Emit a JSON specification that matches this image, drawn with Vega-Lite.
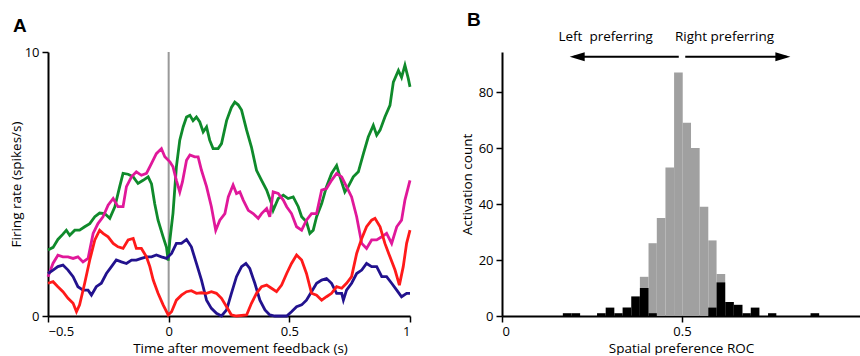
{
  "$schema": "https://vega.github.io/schema/vega-lite/v6.json",
  "padding": {"left": 9, "top": 11, "right": 0, "bottom": 0},
  "bounds": "flush",
  "spacing": 92,
  "config": {
    "view": {"stroke": null},
    "font": "Open Sans",
    "axis": {"grid": false, "domainColor": "black", "domainWidth": 2, "tickColor": "black", "tickWidth": 1.5, "tickSize": 6, "labelFontSize": 13, "titleFontSize": 13.5, "titleFontWeight": "normal", "labelColor": "black", "titleColor": "black", "labelPadding": 3}
  },
  "datasets": {
    "lines": [
      {"s":"green","t":-0.5,"v":2.5},{"s":"green","t":-0.479,"v":2.6},{"s":"green","t":-0.459,"v":2.9},{"s":"green","t":-0.438,"v":3.1},{"s":"green","t":-0.424,"v":3.25},{"s":"green","t":-0.41,"v":3.06},{"s":"green","t":-0.389,"v":3.25},{"s":"green","t":-0.369,"v":3.25},{"s":"green","t":-0.348,"v":3.38},{"s":"green","t":-0.327,"v":3.5},{"s":"green","t":-0.306,"v":3.76},{"s":"green","t":-0.286,"v":3.9},{"s":"green","t":-0.265,"v":3.88},{"s":"green","t":-0.244,"v":3.7},{"s":"green","t":-0.223,"v":4.14},{"s":"green","t":-0.203,"v":4.9},{"s":"green","t":-0.189,"v":5.4},{"s":"green","t":-0.168,"v":5.37},{"s":"green","t":-0.147,"v":5.27},{"s":"green","t":-0.127,"v":5.02},{"s":"green","t":-0.106,"v":5.14},{"s":"green","t":-0.085,"v":5.27},{"s":"green","t":-0.071,"v":5.0},{"s":"green","t":-0.058,"v":4.26},{"s":"green","t":-0.044,"v":3.63},{"s":"green","t":-0.023,"v":3.0},{"s":"green","t":-0.009,"v":2.6},{"s":"green","t":-0.002,"v":2.1},{"s":"green","t":0.005,"v":2.88},{"s":"green","t":0.018,"v":3.9},{"s":"green","t":0.032,"v":5.65},{"s":"green","t":0.046,"v":6.66},{"s":"green","t":0.06,"v":7.16},{"s":"green","t":0.074,"v":7.54},{"s":"green","t":0.088,"v":7.6},{"s":"green","t":0.101,"v":7.4},{"s":"green","t":0.115,"v":7.54},{"s":"green","t":0.129,"v":7.35},{"s":"green","t":0.143,"v":6.97},{"s":"green","t":0.157,"v":7.16},{"s":"green","t":0.17,"v":6.66},{"s":"green","t":0.184,"v":6.34},{"s":"green","t":0.205,"v":6.34},{"s":"green","t":0.219,"v":6.53},{"s":"green","t":0.24,"v":7.4},{"s":"green","t":0.26,"v":7.9},{"s":"green","t":0.274,"v":8.1},{"s":"green","t":0.288,"v":8.0},{"s":"green","t":0.302,"v":7.8},{"s":"green","t":0.323,"v":7.04},{"s":"green","t":0.343,"v":6.4},{"s":"green","t":0.364,"v":5.52},{"s":"green","t":0.385,"v":5.14},{"s":"green","t":0.406,"v":4.77},{"s":"green","t":0.426,"v":4.26},{"s":"green","t":0.433,"v":4.0},{"s":"green","t":0.454,"v":4.45},{"s":"green","t":0.475,"v":4.58},{"s":"green","t":0.495,"v":4.45},{"s":"green","t":0.516,"v":4.51},{"s":"green","t":0.537,"v":4.14},{"s":"green","t":0.551,"v":3.76},{"s":"green","t":0.571,"v":3.57},{"s":"green","t":0.585,"v":3.13},{"s":"green","t":0.599,"v":3.25},{"s":"green","t":0.613,"v":3.76},{"s":"green","t":0.634,"v":4.26},{"s":"green","t":0.654,"v":4.9},{"s":"green","t":0.675,"v":5.4},{"s":"green","t":0.696,"v":5.7},{"s":"green","t":0.71,"v":5.27},{"s":"green","t":0.73,"v":4.7},{"s":"green","t":0.744,"v":4.9},{"s":"green","t":0.765,"v":5.27},{"s":"green","t":0.786,"v":5.46},{"s":"green","t":0.807,"v":6.15},{"s":"green","t":0.827,"v":6.78},{"s":"green","t":0.848,"v":7.22},{"s":"green","t":0.862,"v":6.85},{"s":"green","t":0.876,"v":7.04},{"s":"green","t":0.896,"v":7.54},{"s":"green","t":0.917,"v":7.98},{"s":"green","t":0.931,"v":8.86},{"s":"green","t":0.952,"v":9.3},{"s":"green","t":0.965,"v":9.04},{"s":"green","t":0.979,"v":9.5},{"s":"green","t":0.993,"v":8.99},{"s":"green","t":1.0,"v":8.68},

      {"s":"magenta","t":-0.5,"v":1.49},{"s":"magenta","t":-0.479,"v":2.0},{"s":"magenta","t":-0.459,"v":2.3},{"s":"magenta","t":-0.438,"v":2.24},{"s":"magenta","t":-0.417,"v":2.24},{"s":"magenta","t":-0.396,"v":2.18},{"s":"magenta","t":-0.376,"v":2.24},{"s":"magenta","t":-0.355,"v":2.05},{"s":"magenta","t":-0.334,"v":2.18},{"s":"magenta","t":-0.313,"v":3.13},{"s":"magenta","t":-0.293,"v":3.5},{"s":"magenta","t":-0.272,"v":3.76},{"s":"magenta","t":-0.251,"v":4.2},{"s":"magenta","t":-0.23,"v":4.45},{"s":"magenta","t":-0.21,"v":4.14},{"s":"magenta","t":-0.189,"v":4.14},{"s":"magenta","t":-0.175,"v":4.9},{"s":"magenta","t":-0.154,"v":5.27},{"s":"magenta","t":-0.134,"v":5.46},{"s":"magenta","t":-0.113,"v":5.33},{"s":"magenta","t":-0.092,"v":5.4},{"s":"magenta","t":-0.071,"v":5.78},{"s":"magenta","t":-0.051,"v":6.15},{"s":"magenta","t":-0.03,"v":6.34},{"s":"magenta","t":-0.016,"v":6.03},{"s":"magenta","t":0.005,"v":5.84},{"s":"magenta","t":0.018,"v":5.65},{"s":"magenta","t":0.032,"v":5.14},{"s":"magenta","t":0.046,"v":4.7},{"s":"magenta","t":0.057,"v":5.08},{"s":"magenta","t":0.074,"v":5.9},{"s":"magenta","t":0.088,"v":6.1},{"s":"magenta","t":0.108,"v":6.03},{"s":"magenta","t":0.122,"v":6.03},{"s":"magenta","t":0.136,"v":5.52},{"s":"magenta","t":0.157,"v":4.9},{"s":"magenta","t":0.177,"v":4.14},{"s":"magenta","t":0.195,"v":3.25},{"s":"magenta","t":0.212,"v":3.63},{"s":"magenta","t":0.233,"v":3.88},{"s":"magenta","t":0.247,"v":4.51},{"s":"magenta","t":0.267,"v":4.96},{"s":"magenta","t":0.281,"v":4.64},{"s":"magenta","t":0.295,"v":4.7},{"s":"magenta","t":0.309,"v":4.39},{"s":"magenta","t":0.33,"v":4.0},{"s":"magenta","t":0.35,"v":3.88},{"s":"magenta","t":0.371,"v":3.7},{"s":"magenta","t":0.385,"v":3.88},{"s":"magenta","t":0.406,"v":4.07},{"s":"magenta","t":0.419,"v":3.76},{"s":"magenta","t":0.433,"v":4.7},{"s":"magenta","t":0.454,"v":4.64},{"s":"magenta","t":0.475,"v":4.39},{"s":"magenta","t":0.489,"v":4.14},{"s":"magenta","t":0.509,"v":3.88},{"s":"magenta","t":0.53,"v":3.38},{"s":"magenta","t":0.551,"v":3.25},{"s":"magenta","t":0.571,"v":3.63},{"s":"magenta","t":0.592,"v":3.88},{"s":"magenta","t":0.613,"v":3.88},{"s":"magenta","t":0.634,"v":4.77},{"s":"magenta","t":0.654,"v":4.83},{"s":"magenta","t":0.675,"v":5.14},{"s":"magenta","t":0.696,"v":5.4},{"s":"magenta","t":0.717,"v":5.27},{"s":"magenta","t":0.737,"v":4.9},{"s":"magenta","t":0.758,"v":4.51},{"s":"magenta","t":0.779,"v":3.76},{"s":"magenta","t":0.8,"v":2.75},{"s":"magenta","t":0.82,"v":2.56},{"s":"magenta","t":0.841,"v":2.88},{"s":"magenta","t":0.862,"v":2.88},{"s":"magenta","t":0.883,"v":3.0},{"s":"magenta","t":0.903,"v":3.13},{"s":"magenta","t":0.924,"v":2.75},{"s":"magenta","t":0.945,"v":3.38},{"s":"magenta","t":0.965,"v":3.63},{"s":"magenta","t":0.979,"v":4.39},{"s":"magenta","t":1.0,"v":5.14},

      {"s":"navy","t":-0.5,"v":1.61},{"s":"navy","t":-0.479,"v":1.74},{"s":"navy","t":-0.459,"v":1.87},{"s":"navy","t":-0.438,"v":1.93},{"s":"navy","t":-0.417,"v":1.74},{"s":"navy","t":-0.396,"v":1.49},{"s":"navy","t":-0.376,"v":1.11},{"s":"navy","t":-0.355,"v":0.98},{"s":"navy","t":-0.334,"v":0.98},{"s":"navy","t":-0.32,"v":0.79},{"s":"navy","t":-0.3,"v":1.11},{"s":"navy","t":-0.279,"v":1.24},{"s":"navy","t":-0.258,"v":1.61},{"s":"navy","t":-0.237,"v":1.87},{"s":"navy","t":-0.217,"v":2.12},{"s":"navy","t":-0.196,"v":2.05},{"s":"navy","t":-0.175,"v":1.99},{"s":"navy","t":-0.154,"v":2.12},{"s":"navy","t":-0.134,"v":2.12},{"s":"navy","t":-0.113,"v":2.18},{"s":"navy","t":-0.092,"v":2.24},{"s":"navy","t":-0.071,"v":2.24},{"s":"navy","t":-0.051,"v":2.31},{"s":"navy","t":-0.03,"v":2.24},{"s":"navy","t":-0.009,"v":2.18},{"s":"navy","t":0.012,"v":2.37},{"s":"navy","t":0.032,"v":2.75},{"s":"navy","t":0.053,"v":2.75},{"s":"navy","t":0.074,"v":2.9},{"s":"navy","t":0.094,"v":2.62},{"s":"navy","t":0.115,"v":1.99},{"s":"navy","t":0.136,"v":1.36},{"s":"navy","t":0.157,"v":0.6},{"s":"navy","t":0.177,"v":0.29},{"s":"navy","t":0.198,"v":0.1},{"s":"navy","t":0.219,"v":0.0},{"s":"navy","t":0.24,"v":0.23},{"s":"navy","t":0.26,"v":0.86},{"s":"navy","t":0.281,"v":1.49},{"s":"navy","t":0.302,"v":1.87},{"s":"navy","t":0.32,"v":1.99},{"s":"navy","t":0.336,"v":1.8},{"s":"navy","t":0.357,"v":1.24},{"s":"navy","t":0.378,"v":0.6},{"s":"navy","t":0.399,"v":0.23},{"s":"navy","t":0.419,"v":0.04},{"s":"navy","t":0.44,"v":0.0},{"s":"navy","t":0.489,"v":0.0},{"s":"navy","t":0.509,"v":0.16},{"s":"navy","t":0.53,"v":0.35},{"s":"navy","t":0.551,"v":0.42},{"s":"navy","t":0.571,"v":0.6},{"s":"navy","t":0.592,"v":0.92},{"s":"navy","t":0.613,"v":1.24},{"s":"navy","t":0.634,"v":1.36},{"s":"navy","t":0.654,"v":1.42},{"s":"navy","t":0.675,"v":1.24},{"s":"navy","t":0.696,"v":0.86},{"s":"navy","t":0.717,"v":0.86},{"s":"navy","t":0.724,"v":0.6},{"s":"navy","t":0.737,"v":0.98},{"s":"navy","t":0.758,"v":1.24},{"s":"navy","t":0.779,"v":1.61},{"s":"navy","t":0.8,"v":1.74},{"s":"navy","t":0.82,"v":1.99},{"s":"navy","t":0.841,"v":1.87},{"s":"navy","t":0.862,"v":1.87},{"s":"navy","t":0.883,"v":1.49},{"s":"navy","t":0.903,"v":1.49},{"s":"navy","t":0.924,"v":1.24},{"s":"navy","t":0.945,"v":0.98},{"s":"navy","t":0.965,"v":0.73},{"s":"navy","t":0.986,"v":0.86},{"s":"navy","t":1.0,"v":0.86},

      {"s":"red","t":-0.5,"v":1.24},{"s":"red","t":-0.479,"v":1.3},{"s":"red","t":-0.459,"v":1.11},{"s":"red","t":-0.438,"v":0.92},{"s":"red","t":-0.417,"v":0.67},{"s":"red","t":-0.396,"v":0.48},{"s":"red","t":-0.382,"v":0.16},{"s":"red","t":-0.369,"v":0.42},{"s":"red","t":-0.348,"v":1.24},{"s":"red","t":-0.327,"v":2.12},{"s":"red","t":-0.306,"v":2.88},{"s":"red","t":-0.286,"v":3.25},{"s":"red","t":-0.272,"v":3.13},{"s":"red","t":-0.251,"v":3.0},{"s":"red","t":-0.23,"v":2.75},{"s":"red","t":-0.21,"v":2.62},{"s":"red","t":-0.189,"v":2.56},{"s":"red","t":-0.168,"v":2.88},{"s":"red","t":-0.147,"v":2.94},{"s":"red","t":-0.134,"v":2.56},{"s":"red","t":-0.113,"v":2.56},{"s":"red","t":-0.092,"v":2.24},{"s":"red","t":-0.078,"v":1.87},{"s":"red","t":-0.064,"v":1.36},{"s":"red","t":-0.044,"v":0.86},{"s":"red","t":-0.023,"v":0.42},{"s":"red","t":-0.002,"v":0.04},{"s":"red","t":0.012,"v":0.16},{"s":"red","t":0.032,"v":0.6},{"s":"red","t":0.053,"v":0.79},{"s":"red","t":0.074,"v":0.92},{"s":"red","t":0.094,"v":0.96},{"s":"red","t":0.115,"v":0.86},{"s":"red","t":0.136,"v":0.88},{"s":"red","t":0.157,"v":0.86},{"s":"red","t":0.177,"v":0.92},{"s":"red","t":0.198,"v":0.86},{"s":"red","t":0.219,"v":0.67},{"s":"red","t":0.24,"v":0.35},{"s":"red","t":0.26,"v":0.04},{"s":"red","t":0.281,"v":0.0},{"s":"red","t":0.323,"v":0.04},{"s":"red","t":0.343,"v":0.48},{"s":"red","t":0.364,"v":0.86},{"s":"red","t":0.385,"v":1.11},{"s":"red","t":0.406,"v":1.17},{"s":"red","t":0.426,"v":1.05},{"s":"red","t":0.447,"v":0.92},{"s":"red","t":0.468,"v":1.17},{"s":"red","t":0.489,"v":1.61},{"s":"red","t":0.509,"v":1.99},{"s":"red","t":0.53,"v":2.31},{"s":"red","t":0.551,"v":2.12},{"s":"red","t":0.571,"v":1.61},{"s":"red","t":0.592,"v":0.86},{"s":"red","t":0.613,"v":0.79},{"s":"red","t":0.634,"v":0.6},{"s":"red","t":0.654,"v":0.73},{"s":"red","t":0.675,"v":0.86},{"s":"red","t":0.696,"v":1.11},{"s":"red","t":0.717,"v":1.05},{"s":"red","t":0.737,"v":1.24},{"s":"red","t":0.758,"v":1.49},{"s":"red","t":0.779,"v":2.37},{"s":"red","t":0.8,"v":2.94},{"s":"red","t":0.82,"v":3.38},{"s":"red","t":0.841,"v":3.63},{"s":"red","t":0.855,"v":3.7},{"s":"red","t":0.876,"v":3.38},{"s":"red","t":0.896,"v":2.75},{"s":"red","t":0.917,"v":2.24},{"s":"red","t":0.938,"v":1.74},{"s":"red","t":0.956,"v":1.17},{"s":"red","t":0.972,"v":1.87},{"s":"red","t":0.986,"v":2.75},{"s":"red","t":1.0,"v":3.25}
    ],
    "marker": [{"t": 0, "lo": 0, "hi": 10}],
    "histAll": [
      {"x0":0.383,"x1":0.407,"n":14},{"x0":0.407,"x1":0.430,"n":26},{"x0":0.430,"x1":0.454,"n":35},{"x0":0.454,"x1":0.478,"n":53},{"x0":0.478,"x1":0.502,"n":87},{"x0":0.502,"x1":0.525,"n":69},{"x0":0.525,"x1":0.549,"n":60},{"x0":0.549,"x1":0.573,"n":39},{"x0":0.573,"x1":0.596,"n":27},{"x0":0.596,"x1":0.620,"n":15}
    ],
    "histSig": [
      {"x0":0.169,"x1":0.193,"n":1},{"x0":0.193,"x1":0.217,"n":1},{"x0":0.264,"x1":0.288,"n":1},{"x0":0.288,"x1":0.312,"n":3},{"x0":0.312,"x1":0.335,"n":1},{"x0":0.335,"x1":0.359,"n":3},{"x0":0.359,"x1":0.383,"n":7},{"x0":0.383,"x1":0.407,"n":10},{"x0":0.407,"x1":0.430,"n":1},{"x0":0.573,"x1":0.596,"n":3},{"x0":0.596,"x1":0.620,"n":12},{"x0":0.620,"x1":0.644,"n":5},{"x0":0.644,"x1":0.668,"n":4},{"x0":0.668,"x1":0.691,"n":1},{"x0":0.691,"x1":0.715,"n":3},{"x0":0.739,"x1":0.762,"n":1},{"x0":0.857,"x1":0.881,"n":1}
    ],
    "arrows": [{"x0":0.2,"x1":0.491,"y":92.6},{"x0":0.509,"x1":0.79,"y":92.6}],
    "heads": [{"x":0.188,"y":92.6,"dir":"left"},{"x":0.801,"y":92.6,"dir":"right"}],
    "labels": [{"x":0.288,"y":98.2,"label":"Left\u00a0 preferring"},{"x":0.618,"y":98.2,"label":"Right preferring"}]
  },
  "hconcat": [
    {
      "width": 362,
      "height": 264,
      "title": {"text": "A", "anchor": "start", "frame": "group", "dx": -35, "fontSize": 19, "fontWeight": "bold", "font": "Liberation Sans", "offset": 10},
      "layer": [
        {
          "data": {"name": "marker"},
          "mark": {"type": "rule", "color": "#999999", "strokeWidth": 2},
          "encoding": {
            "x": {"field": "t", "type": "quantitative", "scale": {"domain": [-0.5, 1], "nice": false}},
            "y": {"field": "lo", "type": "quantitative", "scale": {"domain": [0, 10], "nice": false}},
            "y2": {"field": "hi"}
          }
        },
        {
          "data": {"name": "lines"},
          "mark": {"type": "line", "strokeWidth": 2.8},
          "encoding": {
            "x": {"field": "t", "type": "quantitative", "scale": {"domain": [-0.5, 1], "nice": false},
                  "axis": {"values": [-0.5, 0, 0.5, 1], "format": "~g", "title": "Time after movement feedback (s)", "titlePadding": 3, "labelPadding": 3, "titleX": 192}},
            "y": {"field": "v", "type": "quantitative", "scale": {"domain": [0, 10], "nice": false},
                  "axis": {"values": [0, 10], "title": "Firing rate (spikes/s)", "titlePadding": 1}},
            "color": {"field": "s", "type": "nominal", "legend": null,
                      "scale": {"domain": ["green", "magenta", "navy", "red"], "range": ["#0f8a2b", "#e0189a", "#22128e", "#ff1a1a"]}},
            "order": {"field": "t", "type": "quantitative"}
          }
        }
      ]
    },
    {
      "width": 358,
      "height": 264,
      "title": {"text": "B", "anchor": "start", "frame": "group", "dx": -35, "fontSize": 19, "fontWeight": "bold", "font": "Liberation Sans", "offset": 0},
      "layer": [
        {
          "data": {"name": "histAll"},
          "mark": {"type": "bar", "color": "#a0a0a0"},
          "encoding": {
            "x": {"field": "x0", "type": "quantitative", "scale": {"domain": [0, 0.9944], "nice": false},
                  "axis": {"values": [0, 0.5], "format": "~g", "title": "Spatial preference ROC", "titlePadding": 3, "labelPadding": 3}},
            "x2": {"field": "x1"},
            "y": {"field": "n", "type": "quantitative", "scale": {"domain": [0, 94.3], "nice": false},
                  "axis": {"values": [0, 20, 40, 60, 80], "title": "Activation count", "titlePadding": 4}},
            "y2": {"datum": 0}
          }
        },
        {
          "data": {"name": "histSig"},
          "mark": {"type": "bar", "color": "black"},
          "encoding": {
            "x": {"field": "x0", "type": "quantitative"},
            "x2": {"field": "x1"},
            "y": {"field": "n", "type": "quantitative"},
            "y2": {"datum": 0}
          }
        },
        {
          "data": {"name": "arrows"},
          "mark": {"type": "rule", "color": "black", "strokeWidth": 2},
          "encoding": {
            "x": {"field": "x0", "type": "quantitative"},
            "x2": {"field": "x1"},
            "y": {"field": "y", "type": "quantitative"}
          }
        },
        {
          "data": {"name": "heads"},
          "mark": {"type": "point", "filled": true, "opacity": 1, "color": "black", "size": 225},
          "encoding": {
            "x": {"field": "x", "type": "quantitative"},
            "y": {"field": "y", "type": "quantitative"},
            "shape": {"field": "dir", "type": "nominal", "legend": null,
                      "scale": {"domain": ["left", "right"], "range": ["M0,0L2,-0.6L2,0.6Z", "M0,0L-2,-0.6L-2,0.6Z"]}}
          }
        },
        {
          "data": {"name": "labels"},
          "mark": {"type": "text", "fontSize": 13.5, "baseline": "alphabetic", "color": "black"},
          "encoding": {
            "x": {"field": "x", "type": "quantitative"},
            "y": {"field": "y", "type": "quantitative"},
            "text": {"field": "label"}
          }
        }
      ]
    }
  ]
}
